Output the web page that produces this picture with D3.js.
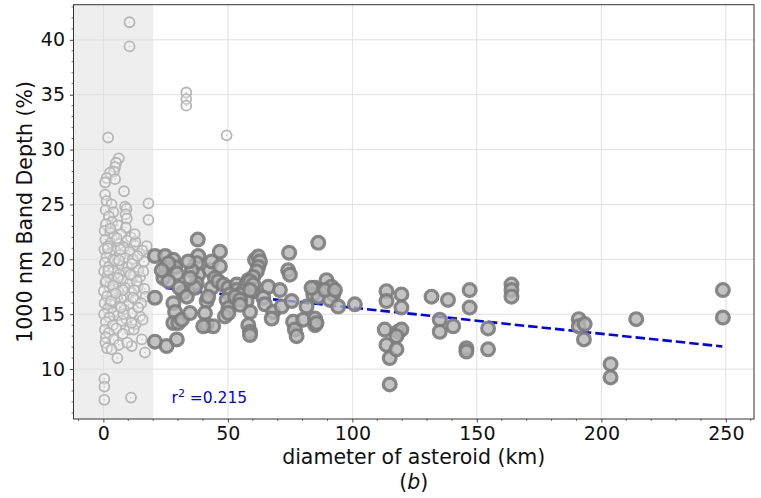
<!DOCTYPE html>
<html>
<head>
<meta charset="utf-8">
<script src="https://cdn.jsdelivr.net/npm/d3@7/dist/d3.min.js"></script>
<style>
  html, body { margin: 0; padding: 0; background: #fff; }
  svg { display: block; font-family: "DejaVu Sans", sans-serif; }
</style>
</head>
<body>
<svg id="chart" width="761" height="498"></svg>
<script>
// Small asteroids (diameter < 20 km, shaded region) plus a few outliers
const smallDiam = [10.5,10.5,33.3,33.3,33.3,49.5,1.9,
  6.2,5.1,4.7,4.2,2.7,1.3,4.7,0.7,8.3,0.7,18.1,18.1,1.3,3.3,8.7,9.3,0.9,8.9,4.0,2.2,9.4,3.5,1.0,
  5.8,9.0,0.5,2.8,7.0,4.3,11.0,0.8,9.5,3.0,6.2,1.8,12.5,17.4,8.2,0.4,4.8,10.5,2.6,6.8,14.5,1.2,
  8.8,3.8,11.8,16.3,0.6,5.5,7.5,2.2,10.0,13.2,0.3,4.2,9.0,6.4,1.6,12.0,14.7,3.2,7.8,0.8,10.6,
  5.0,2.4,8.6,13.8,16.5,0.2,6.0,11.2,3.6,1.4,9.4,7.2,17.0,4.6,12.8,0.5,2.8,10.2,6.6,1.8,8.4,
  14.7,4.0,0.3,11.6,5.8,2.5,9.0,7.4,1.0,3.8,13.0,0.6,5.2,10.4,2.2,7.8,12.2,1.0,4.0,15.4,0.8,
  6.2,11.4,1.5,3.3,9.6,5.6,16.7,0.4,0.4,0.4,11.1,
  2.0,5.4,7.9,3.1,6.9,1.1,4.5,8.1,2.9,5.9,3.9,7.1,1.7,6.3,4.9,
  12.9,15.6,11.5,14.1,13.4,16.0,12.3,15.2,11.9,14.0,13.7,10.9,15.8,12.6,11.3];
const smallDepth = [41.6,39.4,35.2,34.6,34.0,31.3,31.1,
  29.2,28.8,28.4,28.0,27.9,27.4,27.3,27.0,26.2,25.9,25.1,23.6,25.3,25.0,24.8,24.6,24.5,24.1,24.3,23.9,23.7,23.4,23.2,
  23.1,22.9,22.6,22.4,22.3,22.1,22.0,21.8,21.7,21.5,21.4,21.2,21.3,21.2,21.1,20.9,20.8,20.7,20.5,20.4,20.5,20.2,
  20.1,20.0,20.0,19.8,19.7,19.6,19.4,19.3,19.3,19.2,18.9,18.9,18.8,18.6,18.5,18.5,18.4,18.2,18.1,17.9,17.8,
  17.7,17.5,17.4,17.5,17.3,17.1,17.1,17.0,16.8,16.6,16.6,16.4,16.6,16.2,16.3,16.0,15.9,15.9,15.7,15.5,15.4,
  14.8,15.2,15.0,15.1,14.9,14.7,14.6,14.4,14.3,14.0,14.1,13.6,13.7,13.6,13.3,13.2,13.6,12.9,12.7,12.7,12.4,
  12.2,12.1,11.9,11.8,12.4,11.0,11.5,9.1,8.4,7.2,7.4,
  19.0,21.9,17.2,16.2,20.9,18.0,19.9,15.0,22.8,18.3,17.6,15.6,21.0,19.9,16.9,
  21.6,20.8,19.6,19.0,18.0,18.9,17.2,16.0,16.5,15.6,20.3,18.6,14.5,22.3,14.2];

// Asteroids of 20 km and larger
const largeDiam = [20.7,24.8,28.1,28.8,29.5,24.8,24.1,26.1,20.7,28.1,32.0,30.5,33.5,
  38.1,37.5,38.1,37.5,36.8,37.9,35.5,34.1,34.8,42.8,43.5,46.8,46.8,44.8,43.5,41.5,42.1,
  28.8,28.1,30.1,31.5,34.8,40.8,41.5,44.1,40.1,20.7,25.4,29.5,
  46.1,48.2,50.2,53.5,53.5,50.8,49.5,50.2,48.8,
  58.2,57.5,60.2,57.5,58.9,56.2,54.9,52.9,54.9,54.9,50.2,58.2,58.9,58.9,26.1,23.4,60.9,62.2,
  62.9,62.2,61.6,60.2,58.9,60.2,58.9,66.2,70.9,64.2,64.9,68.2,67.6,71.6,75.6,
  74.6,74.2,74.9,76.2,76.9,77.6,80.3,81.6,86.3,85.0,84.3,86.3,85.0,85.0,85.6,83.6,
  89.6,91.6,92.3,91.0,94.3,89.0,93.0,101.0,
  113.7,113.7,119.7,119.7,113.0,113.7,115.0,118.4,119.7,117.7,117.7,115.0,
  131.8,138.4,135.1,135.1,140.5,147.1,147.1,145.8,145.8,154.5,154.5,
  163.9,163.9,163.9,190.9,190.9,193.3,193.0,203.7,203.7,214.0,248.8,248.8];
const largeDepth = [20.3,20.3,19.95,19.3,18.7,19.2,18.3,18.0,16.5,16.0,17.0,17.4,16.6,
  20.3,19.65,18.6,17.8,17.4,21.8,19.0,19.8,18.3,19.0,19.8,20.7,19.35,18.3,17.4,16.2,16.6,
  15.2,14.2,14.2,14.5,15.1,15.1,14.0,13.9,13.9,12.5,12.1,12.7,
  18.0,17.7,17.4,17.7,17.2,16.8,16.3,15.55,14.8,
  18.1,17.7,17.1,16.2,15.2,17.1,16.8,16.6,16.3,15.85,15.1,14.0,13.4,13.1,19.65,19.0,19.95,20.25,
  19.8,19.3,18.9,18.4,18.0,17.7,17.2,17.5,17.2,16.5,15.9,15.2,14.6,15.7,16.2,
  20.6,19.0,18.6,14.3,13.6,13.0,14.5,15.7,21.5,17.4,16.8,16.6,14.6,14.0,14.2,17.4,
  18.1,17.5,16.8,16.3,15.7,17.2,17.2,15.9,
  17.1,16.2,16.8,15.6,13.6,12.2,11.0,13.4,13.6,13.0,11.8,8.6,
  16.6,16.3,14.5,13.4,13.9,17.2,15.6,11.9,11.6,13.7,11.8,
  17.7,17.2,16.6,14.55,13.9,14.1,12.7,10.45,9.24,14.55,17.2,14.7];

// Linear fit over the large asteroids (end points of the fitted line)
const fitDiam = [25, 248.6];
const fitDepth = [17.38, 12.06];
const fitR2 = "0.215";

const xTicks = [0, 50, 100, 150, 200, 250];
const yTicks = [10, 15, 20, 25, 30, 35, 40];
const shadeLimit = 20;

const svg = d3.select("#chart");
const pLeft = 73.5, pRight = 754, pTop = 4.7, pBottom = 419;

const x = d3.scaleLinear().domain([-12.0, 261.3]).range([pLeft, pRight]);
const y = d3.scaleLinear().domain([5.45, 43.2]).range([pBottom, pTop]);

// shaded band for diameters below the limit
svg.append("rect")
  .attr("x", pLeft).attr("y", pTop)
  .attr("width", x(shadeLimit) - pLeft).attr("height", pBottom - pTop)
  .attr("fill", "#eeeeee");

// grid
const grid = svg.append("g").attr("stroke", "#e0e0e0").attr("stroke-width", 1);
grid.selectAll("line.vx").data(xTicks).join("line")
  .attr("x1", d => x(d)).attr("x2", d => x(d)).attr("y1", pTop).attr("y2", pBottom);
grid.selectAll("line.hy").data(yTicks).join("line")
  .attr("x1", pLeft).attr("x2", pRight).attr("y1", d => y(d)).attr("y2", d => y(d));

// small asteroids: hollow light markers
const small = d3.range(smallDiam.length).map(i => [smallDiam[i], smallDepth[i]]);
const gs = svg.append("g");
gs.selectAll("circle.ring").data(small).join("circle")
  .attr("class", "ring")
  .attr("cx", d => x(d[0])).attr("cy", d => y(d[1])).attr("r", 5)
  .attr("fill", "rgba(246,246,246,0.35)")
  .attr("stroke", "#b6b6b6").attr("stroke-width", 1.8);
gs.selectAll("circle.dot").data(small).join("circle")
  .attr("class", "dot")
  .attr("cx", d => x(d[0])).attr("cy", d => y(d[1])).attr("r", 0.8)
  .attr("fill", "#c4c4c4");

// regression line
svg.append("line")
  .attr("x1", x(fitDiam[0])).attr("y1", y(fitDepth[0]))
  .attr("x2", x(fitDiam[1])).attr("y2", y(fitDepth[1]))
  .attr("stroke", "#0000ff").attr("stroke-width", 2.6)
  .attr("stroke-dasharray", "9.5,4");

// large asteroids: filled grey markers
const large = d3.range(largeDiam.length).map(i => [largeDiam[i], largeDepth[i]]);
svg.append("g").selectAll("circle").data(large).join("circle")
  .attr("cx", d => x(d[0])).attr("cy", d => y(d[1])).attr("r", 6.4)
  .attr("fill", "#b4b4b4").attr("fill-opacity", 0.8)
  .attr("stroke", "#7c7c7c").attr("stroke-opacity", 0.9).attr("stroke-width", 3.2);

// axes
const xAxis = d3.axisBottom(x).tickValues(xTicks).tickSize(3.5).tickPadding(4).tickFormat(d3.format("d"));
const yAxis = d3.axisLeft(y).tickValues(yTicks).tickSize(3.5).tickPadding(5).tickFormat(d3.format("d"));

const gx = svg.append("g").attr("transform", `translate(0,${pBottom})`).call(xAxis);
const gy = svg.append("g").attr("transform", `translate(${pLeft},0)`).call(yAxis);
[gx, gy].forEach(g => {
  g.select(".domain").remove();
  g.selectAll(".tick line").attr("stroke", "#333").attr("stroke-width", 0.9);
  g.selectAll(".tick text").attr("fill", "#111").style("font-size", "19px")
    .style("font-family", "'DejaVu Sans', sans-serif");
});

// minor ticks
const xMinor = d3.range(-10, 261, 10).filter(v => !xTicks.includes(v));
svg.append("g").selectAll("line").data(xMinor).join("line")
  .attr("x1", d => x(d)).attr("x2", d => x(d)).attr("y1", pBottom).attr("y2", pBottom + 2)
  .attr("stroke", "#333").attr("stroke-width", 0.7);
const yMinor = d3.range(6, 44, 1).filter(v => !yTicks.includes(v));
svg.append("g").selectAll("line").data(yMinor).join("line")
  .attr("x1", pLeft - 2).attr("x2", pLeft).attr("y1", d => y(d)).attr("y2", d => y(d))
  .attr("stroke", "#333").attr("stroke-width", 0.7);

// frame
svg.append("rect")
  .attr("x", pLeft).attr("y", pTop).attr("width", pRight - pLeft).attr("height", pBottom - pTop)
  .attr("fill", "none").attr("stroke", "#333").attr("stroke-width", 1);

// fit annotation
const ann = svg.append("text")
  .attr("x", 171.5).attr("y", 403)
  .attr("fill", "#0000ff").style("font-size", "15.5px");
ann.append("tspan").text("r");
ann.append("tspan").attr("dy", -6.5).style("font-size", "11px").text("2");
ann.append("tspan").attr("dy", 6.5).text(" =" + fitR2);

// axis titles
svg.append("text")
  .attr("x", (pLeft + pRight) / 2).attr("y", 464)
  .attr("text-anchor", "middle").attr("fill", "#111").style("font-size", "20.5px")
  .text("diameter of asteroid (km)");
const sub = svg.append("text")
  .attr("x", (pLeft + pRight) / 2).attr("y", 489)
  .attr("text-anchor", "middle").attr("fill", "#111").style("font-size", "20.5px");
sub.append("tspan").text("(");
sub.append("tspan").style("font-style", "italic").text("b");
sub.append("tspan").text(")");

svg.append("text")
  .attr("transform", `translate(32,${(pTop + pBottom) / 2}) rotate(-90)`)
  .attr("text-anchor", "middle").attr("fill", "#111").style("font-size", "20.5px")
  .text("1000 nm Band Depth (%)");
</script>
</body>
</html>
